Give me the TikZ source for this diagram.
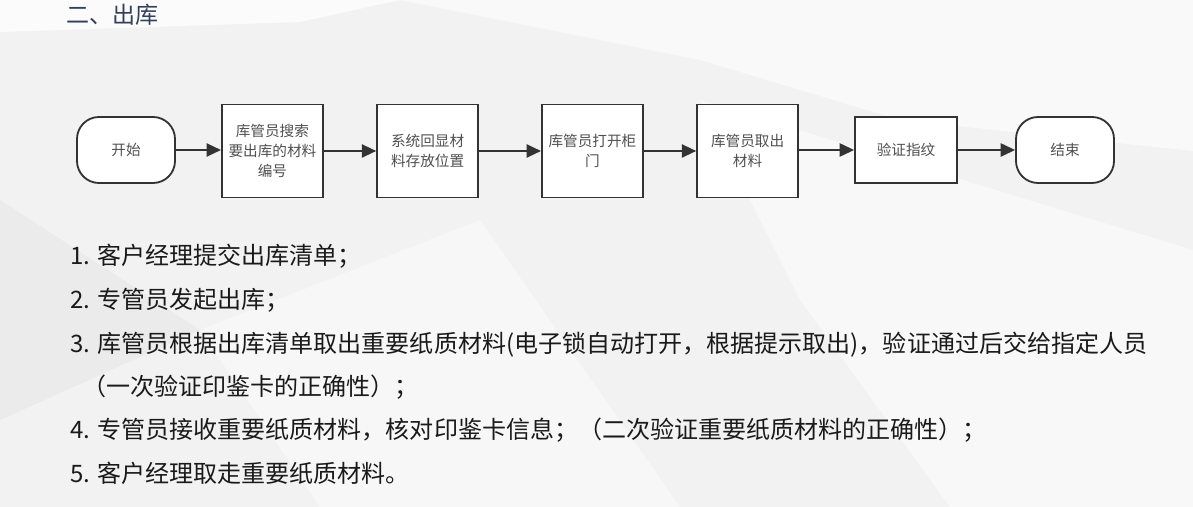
\documentclass[tikz,border=0pt]{standalone}
\usepackage{fontspec}
\setmainfont{Noto Sans CJK SC}
\usepackage{tikz}
\usetikzlibrary{positioning,calc,arrows.meta}
\definecolor{linegray}{HTML}{333333}
\definecolor{boxtext}{HTML}{505050}
\definecolor{listtext}{HTML}{1A1A1A}
\definecolor{headblue}{HTML}{34405A}
\definecolor{pagebg}{HTML}{F2F2F2}

\begin{document}
\begin{tikzpicture}[>={Triangle[length=3.6mm,width=3.3mm]},
  flowbox/.style={draw=linegray, line width=1.3pt, fill=white, minimum width=2.525cm, minimum height=2.325cm, align=center, text=boxtext, inner sep=2pt, font=\fontsize{10.4}{14.2}\selectfont},
  termbox/.style={flowbox, rounded corners=0.55cm, minimum width=2.45cm, minimum height=1.65cm},
  flowarrow/.style={draw=linegray, line width=1.3pt, ->},
  listline/.style={anchor=west, inner sep=0pt, text=listtext, font=\fontsize{17.1}{20}\selectfont}]
  \useasboundingbox (0, 0) rectangle (29.825, 12.675);

  % Page background
  \fill[pagebg] (0, 0) rectangle (29.825, 12.675);
  \fill[white!70!pagebg] (0, 12.675) -- (10, 12.675) -- (7.5, 12.125) -- (0, 11.875) -- cycle;
  \fill[white!55!pagebg] (10, 12.675) -- (29.825, 12.675) -- (29.825, 8.9) -- (22.5, 9.675) -- (17.5, 11.175) -- cycle;
  \fill[white!45!pagebg] (17.5, 10.175) -- (29.825, 6.425) -- (29.825, 0) -- (23.75, 0) -- (20, 5.175) -- cycle;
  \fill[black!3!pagebg] (0, 7.675) -- (5, 4.425) -- (0, 2.175) -- cycle;
  \fill[white!40!pagebg] (5, 4.425) -- (12, 7.175) -- (17, 0) -- (8, 0) -- cycle;

  % Heading
  \node[anchor=west, inner sep=0pt, text=headblue, font=\fontsize{16.4}{20}\selectfont] (title) at (1.65, 12.3) {二、出库};

  % Flow chart
  \node[termbox] (start) at (3.15, 8.925) {开始};
  \node[flowbox] (search) at (6.81, 8.9) {库管员搜索\\要出库的材料\\编号};
  \node[flowbox] (locate) at (10.69, 8.9) {系统回显材\\料存放位置};
  \node[flowbox] (opendoor) at (14.81, 8.9) {库管员打开柜\\门};
  \node[flowbox] (takeout) at (18.69, 8.9) {库管员取出\\材料};
  \node[flowbox, minimum width=2.55cm, minimum height=1.65cm] (finger) at (22.65, 8.925) {验证指纹};
  \node[termbox] (stop) at (26.625, 8.925) {结束};

  \draw[flowarrow] (start.east) -- (search.west |- start.east);
  \draw[flowarrow] (search.east) -- (locate.west);
  \draw[flowarrow] (locate.east) -- (opendoor.west);
  \draw[flowarrow] (opendoor.east) -- (takeout.west);
  \draw[flowarrow] (takeout.east |- finger.west) -- (finger.west);
  \draw[flowarrow] (finger.east) -- (stop.west);

  % Steps
  \node[listline] (step1) at (1.75, 6.275) {1. 客户经理提交出库清单；};
  \node[listline] (step2) at (1.75, 5.175) {2. 专管员发起出库；};
  \node[listline] (step3) at (1.75, 4.05) {3. 库管员根据出库清单取出重要纸质材料(电子锁自动打开，根据提示取出)，验证通过后交给指定人员};
  \node[listline] (step3b) at (2.05, 3.0) {（一次验证印鉴卡的正确性）；};
  \node[listline] (step4) at (1.75, 1.925) {4. 专管员接收重要纸质材料，核对印鉴卡信息；（二次验证重要纸质材料的正确性）；};
  \node[listline] (step5) at (1.75, 0.85) {5. 客户经理取走重要纸质材料。};
\end{tikzpicture}
\end{document}
